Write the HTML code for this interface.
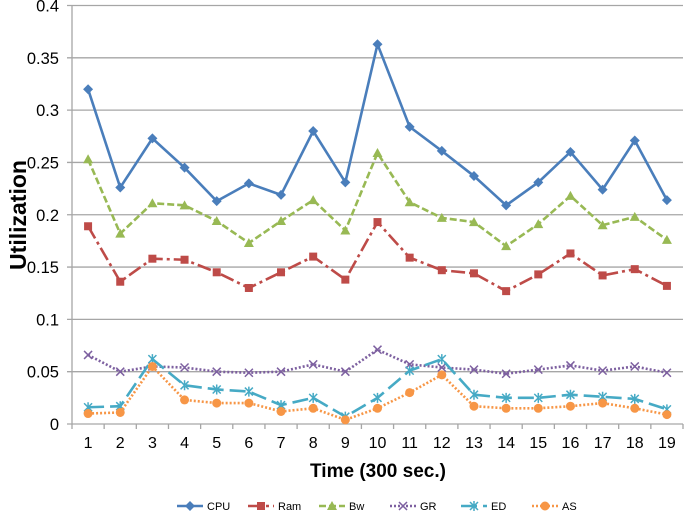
<!DOCTYPE html>
<html><head><meta charset="utf-8"><style>
body{margin:0;background:#fff;font-family:"Liberation Sans",sans-serif}
svg text{font-family:"Liberation Sans",sans-serif}
</style></head><body>
<svg id="chart" width="685" height="514" xmlns="http://www.w3.org/2000/svg">
<g id="grid"></g><g id="axes"></g><g id="series"></g><g id="legend"></g>
<text transform="translate(26,215) rotate(-90)" text-anchor="middle" font-size="23" font-weight="bold">Utilization</text>
<text x="378" y="477" text-anchor="middle" font-size="19" font-weight="bold">Time (300 sec.)</text>
</svg>
<script>
const categories=[1,2,3,4,5,6,7,8,9,10,11,12,13,14,15,16,17,18,19];
const yTicks=[0,0.05,0.1,0.15,0.2,0.25,0.3,0.35,0.4];
const cpu=[.320,.226,.273,.245,.213,.230,.219,.280,.231,.363,.284,.261,.237,.209,.231,.260,.224,.271,.214];
const ram=[.189,.136,.158,.157,.145,.130,.145,.160,.138,.193,.159,.147,.144,.127,.143,.163,.142,.148,.132];
const bw=[.253,.182,.211,.209,.194,.173,.194,.214,.185,.259,.212,.197,.193,.170,.191,.218,.190,.198,.176];
const gr=[.066,.050,.055,.054,.050,.049,.050,.057,.050,.071,.057,.054,.052,.048,.052,.056,.051,.055,.049];
const ed=[.016,.017,.062,.037,.033,.031,.018,.025,.007,.025,.051,.062,.028,.025,.025,.028,.026,.024,.014];
const as=[.010,.011,.055,.023,.020,.020,.012,.015,.004,.015,.030,.047,.017,.015,.015,.017,.020,.015,.009];
const names=["CPU","Ram","Bw","GR","ED","AS"];
const NS="http://www.w3.org/2000/svg";
const L=72,R=683,T=5.5,B=424,ymax=0.4;
const slot=(R-L)/categories.length;
const x=i=>L+slot*(i+0.5);
const y=v=>B-(v/ymax)*(B-T);
function mk(t,a,p){const e=document.createElementNS(NS,t);for(const k in a)e.setAttribute(k,a[k]);p.appendChild(e);return e;}
const grid=document.getElementById('grid'),axes=document.getElementById('axes'),ser=document.getElementById('series'),leg=document.getElementById('legend');
yTicks.forEach(v=>{
 const g=mk('line',{x1:L-5,x2:R,y1:y(v),y2:y(v),stroke:'#a6a6a6','stroke-width':1.3},grid);
 
 
 const t=mk('text',{x:L-13,y:y(v)+6,'text-anchor':'end','font-size':16.5},axes);
 t.textContent=String(v);
 
 
});
const ax=mk('line',{x1:L,x2:L,y1:T,y2:B,stroke:'#a6a6a6','stroke-width':1.3},axes);


for(let i=0;i<=categories.length;i++){
 const tk=mk('line',{x1:L+slot*i,x2:L+slot*i,y1:B,y2:B+5,stroke:'#a6a6a6','stroke-width':1.3},axes);
 
 
}
categories.forEach((c,i)=>{
 const t=mk('text',{x:x(i),y:B+24,'text-anchor':'middle','font-size':16},axes);
 t.textContent=c;
 
 
});
const styles=[
 {d:cpu,c:'#4a7ebb',dash:'',m:'diamond'},
 {d:ram,c:'#be4b48',dash:'14 4 3 4',m:'square'},
 {d:bw,c:'#98b954',dash:'7 3',m:'triangle'},
 {d:gr,c:'#7d60a0',dash:'2 2',m:'x'},
 {d:ed,c:'#46aac5',dash:'16 6',m:'star'},
 {d:as,c:'#f79646',dash:'2 2',m:'circle'}];
function marker(m,cx,cy,c,p){
 if(m==='diamond')return mk('polygon',{points:`${cx},${cy-5} ${cx+5},${cy} ${cx},${cy+5} ${cx-5},${cy}`,fill:c},p);
 if(m==='square')return mk('rect',{x:cx-4,y:cy-4,width:8,height:8,fill:c},p);
 if(m==='triangle')return mk('polygon',{points:`${cx},${cy-5} ${cx+5},${cy+4} ${cx-5},${cy+4}`,fill:c},p);
 if(m==='circle')return mk('circle',{cx,cy,r:4.5,fill:c},p);
 const d=m==='x'?`M${cx-4} ${cy-4}L${cx+4} ${cy+4}M${cx-4} ${cy+4}L${cx+4} ${cy-4}`:`M${cx-4} ${cy-4}L${cx+4} ${cy+4}M${cx-4} ${cy+4}L${cx+4} ${cy-4}M${cx} ${cy-5}L${cx} ${cy+5}`;
 return mk('path',{d,stroke:c,'stroke-width':1.5,fill:'none'},p);
}
styles.forEach((s,k)=>{
 const pl=mk('polyline',{points:s.d.map((v,i)=>x(i)+','+y(v)).join(' '),fill:'none',stroke:s.c,'stroke-width':2.6,'stroke-dasharray':s.dash},ser);
 
 
 s.d.forEach((v,i)=>{const m=marker(s.m,x(i),y(v),s.c,ser);
  
  });
 const lx=177+k*71,ly=506;
 const g=mk('g',{},leg);
 
 
 mk('line',{x1:lx,x2:lx+26,y1:ly,y2:ly,stroke:s.c,'stroke-width':2.5,'stroke-dasharray':s.dash},g);
 marker(s.m,lx+13,ly,s.c,g);
 const t=mk('text',{x:lx+30,y:ly+4,'font-size':11},g);t.textContent=names[k];
});
</script>
</body></html>
